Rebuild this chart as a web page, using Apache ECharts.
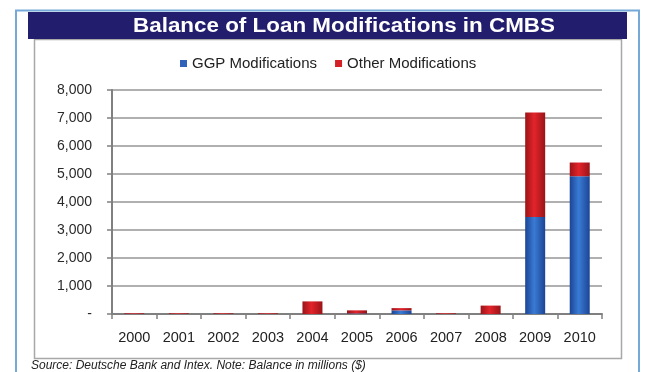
<!DOCTYPE html>
<html>
<head>
<meta charset="utf-8">
<script src="https://cdn.jsdelivr.net/npm/echarts@6/dist/echarts.min.js"></script>
<style>
html,body{margin:0;padding:0;background:#fff;}
#c{width:645px;height:372px;}
</style>
</head>
<body>
<div id="c"></div>
<script>
var categories = ['2000','2001','2002','2003','2004','2005','2006','2007','2008','2009','2010'];
var ggpValues = [0, 0, 0, 0, 0, 20, 130, 0, 0, 3460, 4920];
var otherValues = [25, 25, 25, 25, 450, 110, 80, 25, 300, 3740, 490];
var yTicks = [0, 1000, 2000, 3000, 4000, 5000, 6000, 7000, 8000];
var titleText = 'Balance of Loan Modifications in CMBS';
var sourceText = 'Source: Deutsche Bank and Intex. Note: Balance in millions ($)';

var chart = echarts.init(document.getElementById('c'), null, {renderer: 'canvas'});

function hGrad(edge, mid) {
  return new echarts.graphic.LinearGradient(0, 0, 1, 0, [
    {offset: 0, color: edge},
    {offset: 0.45, color: mid},
    {offset: 1, color: edge}
  ]);
}

var option = {
  backgroundColor: '#ffffff',
  animation: false,
  graphic: [
    {type: 'rect', z: -10, silent: true, shape: {x: 16, y: 10.5, width: 623, height: 380}, style: {fill: 'none', stroke: '#74a9d8', lineWidth: 2}},
    {type: 'rect', z: -10, silent: true, shape: {x: 34.5, y: 39.5, width: 587, height: 319}, style: {fill: 'none', stroke: '#a8a8a8', lineWidth: 1.5}},
    {type: 'rect', z: -5, silent: true, shape: {x: 28, y: 12, width: 599, height: 27}, style: {fill: '#221d6c'}},
    {type: 'text', z: 3, silent: true, x: 344, y: 26, scaleX: 1.12, originX: 0, style: {text: titleText, fill: '#ffffff', textAlign: 'center', textVerticalAlign: 'middle', font: 'bold 20px "Liberation Sans", Arial, sans-serif'}},
    {type: 'text', z: 3, silent: true, x: 31, y: 366, style: {text: sourceText, fill: '#222', textVerticalAlign: 'middle', font: 'italic 12px "Liberation Sans", Arial, sans-serif'}}
  ],
  legend: {
    top: 51,
    left: 175,
    itemWidth: 7,
    itemHeight: 7,
    itemGap: 18,
    icon: 'rect',
    textStyle: {fontFamily: '"Liberation Sans", Arial, sans-serif', fontSize: 15, color: '#222'},
    data: [
      {name: 'GGP Modifications', itemStyle: {color: '#2f62b8'}},
      {name: 'Other Modifications', itemStyle: {color: '#d42027'}}
    ]
  },
  grid: {left: 112, right: 43, top: 90, bottom: 58, containLabel: false},
  xAxis: {
    type: 'category',
    data: categories,
    boundaryGap: true,
    axisLine: {lineStyle: {color: '#808080', width: 2}},
    axisTick: {show: true, length: 5, lineStyle: {color: '#808080', width: 1.5}},
    axisLabel: {margin: 16, fontFamily: '"Liberation Sans", Arial, sans-serif', fontSize: 14.5, color: '#222'}
  },
  yAxis: {
    type: 'value',
    min: yTicks[0],
    max: yTicks[yTicks.length - 1],
    interval: 1000,
    axisLine: {show: true, lineStyle: {color: '#808080', width: 2}},
    axisTick: {show: true, length: 5, lineStyle: {color: '#808080', width: 1.5}},
    splitLine: {lineStyle: {color: '#969696', width: 1.6}},
    axisLabel: {
      margin: 20,
      fontFamily: '"Liberation Sans", Arial, sans-serif',
      fontSize: 14,
      color: '#2a2a2a',
      formatter: function (v) { return v === 0 ? '-' : v.toLocaleString('en-US'); }
    }
  },
  series: [
    {
      name: 'GGP Modifications',
      type: 'bar',
      stack: 'total',
      barWidth: 20,
      data: ggpValues,
      itemStyle: {color: hGrad('#1b4595', '#3a7bd4')}
    },
    {
      name: 'Other Modifications',
      type: 'bar',
      stack: 'total',
      barWidth: 20,
      data: otherValues,
      itemStyle: {color: hGrad('#9a1418', '#e3242b')}
    }
  ]
};
chart.setOption(option);
</script>
</body>
</html>
